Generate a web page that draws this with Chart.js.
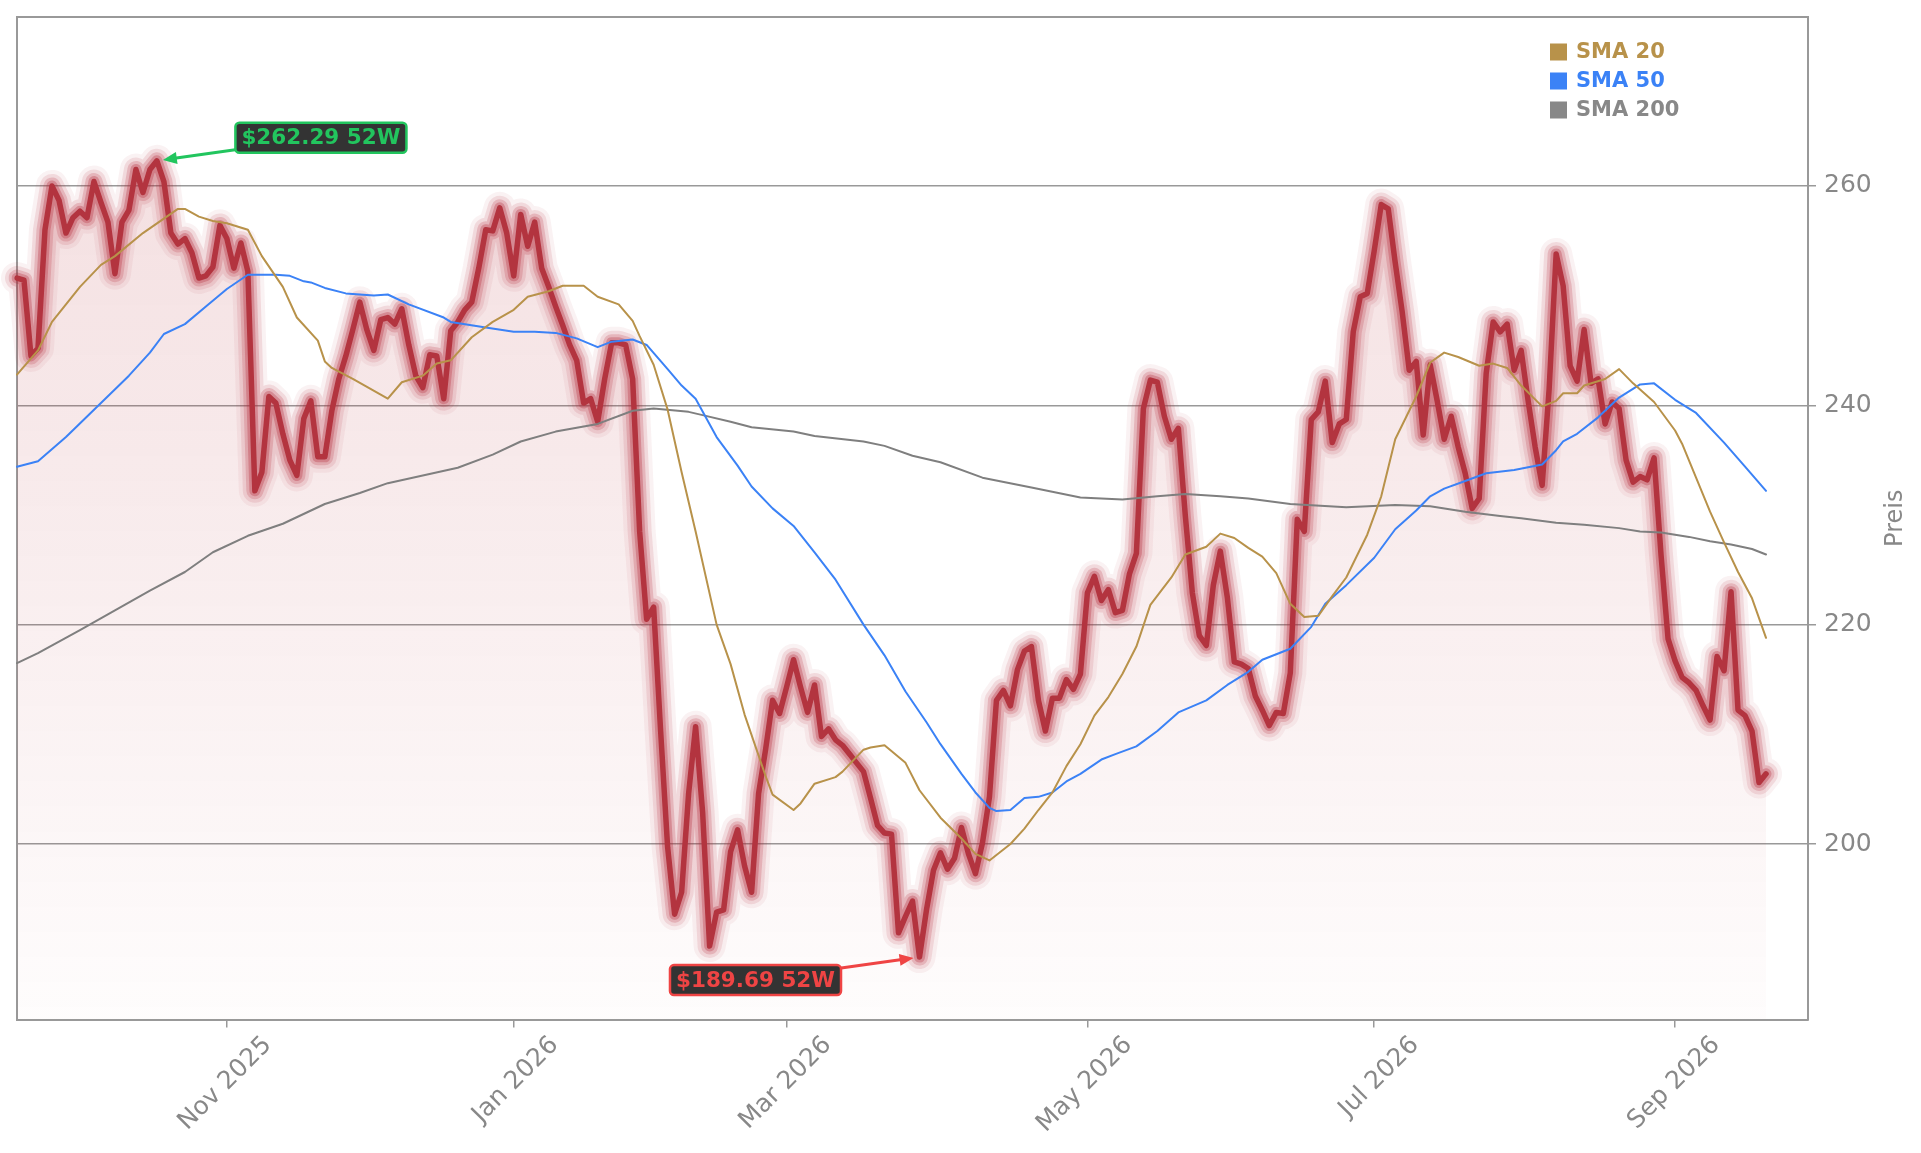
<!DOCTYPE html>
<html>
<head>
<meta charset="utf-8">
<title>Kursverlauf mit SMA</title>
<script src="https://cdn.jsdelivr.net/npm/chart.js@4.4.1/dist/chart.umd.min.js"></script>
<style>
  html, body { margin: 0; padding: 0; background: #fff; }
  #wrap { width: 1921px; height: 1153px; }
</style>
</head>
<body>
<div id="wrap"><canvas id="chart"></canvas></div>
<script>
// trading days from 22 Sep 2025, weekends and US market holidays skipped
const firstDay = '2025-09-22';
const dayCount = 257;
const holidays = ['2025-11-27', '2025-12-25', '2026-01-01', '2026-01-19', '2026-02-16',
                  '2026-04-03', '2026-05-25', '2026-06-19', '2026-07-03', '2026-09-07'];
const monthNames = ['Jan', 'Feb', 'Mar', 'Apr', 'May', 'Jun', 'Jul', 'Aug', 'Sep', 'Oct', 'Nov', 'Dec'];

// daily close, one value per trading day
const price = [
  251.6, 251.4, 244.5, 245.2, 256.0, 260.0, 258.7, 255.7, 257.1, 257.7,
  257.1, 260.4, 258.5, 256.7, 252.0, 256.7, 257.8, 261.5, 259.4, 261.5,
  262.29, 260.4, 255.7, 254.7, 255.2, 253.9, 251.6, 251.8, 252.6, 256.4,
  255.2, 252.5, 254.8, 252.2, 232.2, 233.9, 240.8, 240.2, 237.4, 235.0,
  233.6, 238.8, 240.4, 235.3, 235.3, 239.5, 242.4, 244.5, 246.9, 249.4,
  246.9, 245.0, 247.8, 248.0, 247.4, 248.8, 245.5, 242.7, 241.6, 244.6,
  244.5, 240.6, 246.8, 247.6, 248.7, 249.4, 252.5, 256.0, 255.9, 258.0,
  255.7, 251.8, 257.4, 254.5, 256.7, 252.5, 250.8, 249.0, 247.3, 245.5,
  244.1, 240.2, 240.6, 238.5, 242.4, 245.7, 245.7, 245.5, 242.4, 228.5,
  220.5, 221.6, 210.3, 199.7, 193.6, 195.6, 204.6, 210.7, 202.9, 190.7,
  193.8, 194.0, 199.3, 201.3, 198.0, 195.6, 204.6, 208.6, 213.1, 211.9,
  214.3, 216.8, 214.3, 212.0, 214.5, 209.8, 210.5, 209.5, 209.0, 208.2,
  207.4, 206.6, 204.2, 201.7, 201.0, 200.9, 191.9, 193.4, 194.8, 189.69,
  194.0, 197.6, 199.2, 197.7, 198.7, 201.5, 199.1, 197.3, 200.1, 204.3,
  213.1, 214.0, 212.6, 215.9, 217.6, 218.0, 213.1, 210.3, 213.3, 213.3,
  215.0, 214.1, 215.5, 222.9, 224.4, 222.2, 223.2, 221.1, 221.3, 224.6,
  226.5, 239.7, 242.3, 242.1, 239.0, 236.9, 237.9, 229.9, 222.9, 219.0,
  218.1, 223.6, 226.7, 222.5, 216.6, 216.4, 216.0, 213.5, 212.2, 210.8,
  212.0, 211.9, 215.6, 229.6, 228.5, 238.7, 239.4, 242.2, 236.6, 238.3,
  238.7, 246.7, 249.9, 250.2, 254.1, 258.3, 257.9, 253.0, 248.5, 243.2,
  244.0, 237.3, 243.7, 240.4, 236.9, 239.0, 236.2, 233.8, 230.6, 231.5,
  242.9, 247.6, 246.7, 247.4, 243.2, 245.0, 240.4, 236.2, 232.7, 241.5,
  253.8, 250.9, 243.6, 242.2, 246.9, 242.0, 242.4, 238.3, 240.3, 239.7,
  235.0, 233.0, 233.5, 233.2, 235.2, 226.3, 218.7, 216.7, 215.2, 214.7,
  214.0, 212.6, 211.3, 217.1, 215.8, 223.0, 212.2, 211.7, 210.3, 205.6, 206.4
];

// moving averages as [trading day index, value]
const sma20 = [
  [0, 242.8], [3, 245.0], [5, 247.6], [9, 250.8], [12, 252.8], [14, 253.6], [18, 255.7], [23, 257.9],
  [24, 257.9], [26, 257.2], [28, 256.8], [30, 256.6], [33, 256.0], [35, 253.6], [38, 250.8], [40, 248.0],
  [43, 245.9], [44, 244.0], [45, 243.4], [48, 242.4], [53, 240.6], [55, 242.1], [58, 242.7], [60, 243.8],
  [62, 244.1], [65, 246.2], [68, 247.6], [71, 248.7], [73, 249.9], [76, 250.4], [78, 250.9], [81, 250.9],
  [83, 249.9], [86, 249.2], [88, 247.7], [89, 246.3], [91, 243.7], [93, 239.6], [95, 233.9], [97, 228.5],
  [100, 220.0], [102, 216.4], [104, 211.8], [107, 206.2], [108, 204.5], [111, 203.1], [112, 203.7], [114, 205.5],
  [117, 206.1], [118, 206.6], [121, 208.6], [122, 208.8], [124, 209.0], [127, 207.4], [129, 204.9], [132, 202.4],
  [135, 200.5], [137, 199.1], [139, 198.5], [142, 200.0], [144, 201.4], [146, 203.1], [148, 204.7], [150, 207.1],
  [152, 209.1], [154, 211.7], [156, 213.4], [158, 215.5], [160, 218.0], [162, 221.8], [165, 224.3], [167, 226.4],
  [170, 227.1], [172, 228.3], [174, 227.9], [176, 227.0], [178, 226.2], [180, 224.7], [182, 221.9], [184, 220.7],
  [186, 220.8], [188, 222.6], [190, 224.3], [193, 228.2], [195, 231.7], [197, 236.9], [200, 240.8], [202, 243.9],
  [204, 244.8], [206, 244.4], [209, 243.6], [211, 243.8], [213, 243.4], [215, 241.8], [218, 239.9], [220, 240.4],
  [221, 241.1], [223, 241.1], [224, 241.8], [227, 242.4], [229, 243.3], [231, 242.0], [234, 240.3], [237, 237.7],
  [238, 236.5], [240, 233.4], [242, 230.3], [244, 227.5], [246, 224.8], [248, 222.4], [250, 218.8]
];
const sma50 = [
  [0, 234.4], [3, 234.9], [7, 237.1], [12, 240.2], [16, 242.7], [19, 244.8], [21, 246.5], [24, 247.4],
  [27, 249.0], [30, 250.6], [33, 251.9], [37, 251.9], [39, 251.8], [41, 251.3], [42, 251.2], [44, 250.7],
  [47, 250.2], [51, 250.0], [53, 250.1], [56, 249.2], [61, 248.0], [62, 247.6], [67, 247.1], [71, 246.7],
  [74, 246.7], [77, 246.6], [80, 246.1], [83, 245.3], [85, 245.8], [88, 246.0], [90, 245.5], [93, 243.3],
  [95, 241.8], [97, 240.6], [100, 237.1], [103, 234.5], [105, 232.6], [108, 230.6], [111, 229.0], [114, 226.6],
  [117, 224.1], [121, 220.0], [124, 217.2], [127, 213.9], [130, 211.1], [132, 209.1], [135, 206.4], [137, 204.7],
  [139, 203.3], [140, 203.0], [142, 203.1], [144, 204.2], [146, 204.3], [148, 204.7], [150, 205.7], [152, 206.4],
  [155, 207.7], [157, 208.2], [160, 208.9], [163, 210.3], [166, 212.0], [170, 213.1], [173, 214.5], [176, 215.7],
  [178, 216.8], [182, 217.8], [185, 219.8], [187, 221.9], [190, 223.6], [194, 226.1], [197, 228.7], [200, 230.4],
  [202, 231.7], [204, 232.4], [207, 233.1], [210, 233.8], [214, 234.1], [218, 234.6], [220, 235.9], [221, 236.7],
  [223, 237.4], [226, 238.9], [229, 240.7], [232, 241.9], [234, 242.0], [237, 240.5], [240, 239.3], [244, 236.6],
  [247, 234.4], [250, 232.2]
];
const sma200 = [
  [0, 216.5], [3, 217.4], [9, 219.5], [14, 221.3], [19, 223.1], [24, 224.8], [28, 226.6], [33, 228.1],
  [38, 229.2], [44, 231.0], [49, 232.0], [53, 232.9], [58, 233.6], [63, 234.3], [68, 235.5], [72, 236.7],
  [77, 237.6], [83, 238.3], [88, 239.5], [91, 239.7], [96, 239.4], [98, 239.1], [102, 238.5], [105, 238.0],
  [111, 237.6], [114, 237.2], [121, 236.7], [124, 236.3], [128, 235.4], [132, 234.8], [138, 233.4], [145, 232.5],
  [152, 231.6], [158, 231.4], [163, 231.7], [167, 231.9], [172, 231.7], [176, 231.5], [182, 231.0], [190, 230.7],
  [197, 230.9], [202, 230.8], [207, 230.3], [212, 229.9], [215, 229.7], [220, 229.3], [224, 229.1], [229, 228.8],
  [232, 228.5], [235, 228.4], [239, 228.0], [242, 227.6], [245, 227.3], [248, 226.9], [250, 226.4]
];

const smaNames = ['SMA 20', 'SMA 50', 'SMA 200'];
const smaColors = ['#b8924a', '#3b82f6', '#888888'];
const yTickValues = [200, 220, 240, 260];

function buildTradingDays(start, count) {
  const out = [];
  const d = new Date(start + 'T12:00:00Z');
  while (out.length < count) {
    const iso = d.toISOString().slice(0, 10);
    const wd = d.getUTCDay();
    if (wd !== 0 && wd !== 6 && !holidays.includes(iso)) out.push(iso);
    d.setUTCDate(d.getUTCDate() + 1);
  }
  return out;
}

const tradingDays = buildTradingDays(firstDay, dayCount);

// first trading day of every second month gets a tick
const monthTicks = {};
tradingDays.forEach((iso, i) => {
  if (i === 0) return;
  const m = +iso.slice(5, 7);
  if (m !== +tradingDays[i - 1].slice(5, 7) && m % 2 === 1) {
    monthTicks[i] = monthNames[m - 1] + ' ' + iso.slice(0, 4);
  }
});

const toPoints = (pairs) => pairs.map(([i, v]) => ({ x: tradingDays[i], y: v }));

const hiIdx = price.indexOf(Math.max(...price));
const loIdx = price.indexOf(Math.min(...price));
const extremes = [
  { idx: hiIdx, color: '#22c55e', dx: 164, dy: -23 },
  { idx: loIdx, color: '#ef4444', dx: -164, dy: 23 }
];

Chart.defaults.font.family = '"DejaVu Sans", sans-serif';

const plotFrame = {
  id: 'plotFrame',
  beforeDatasetsDraw(chart) {
    const { ctx, chartArea: a } = chart;
    ctx.save();
    ctx.strokeStyle = '#999';
    ctx.lineWidth = 2;
    ctx.beginPath();
    ctx.moveTo(a.left, a.bottom);
    ctx.lineTo(a.left, a.top);
    ctx.lineTo(a.right, a.top);
    ctx.stroke();
    ctx.restore();
  }
};

const extremeLabels = {
  id: 'extremeLabels',
  afterDatasetsDraw(chart) {
    const { ctx, scales: { x, y } } = chart;
    ctx.save();
    ctx.font = 'bold 21.5px "DejaVu Sans"';
    extremes.forEach((m) => {
      const px = x.getPixelForValue(m.idx);
      const py = y.getPixelForValue(price[m.idx]);
      const cx = px + m.dx, cy = py + m.dy;
      const ang = Math.atan2(py - cy, px - cx);
      const c = Math.cos(ang), s = Math.sin(ang);
      const tx = px - c * 6, ty = py - s * 6;
      ctx.strokeStyle = m.color;
      ctx.fillStyle = m.color;
      ctx.lineWidth = 3;
      ctx.beginPath();
      ctx.moveTo(cx, cy);
      ctx.lineTo(tx - c * 10, ty - s * 10);
      ctx.stroke();
      ctx.beginPath();
      ctx.moveTo(tx, ty);
      ctx.lineTo(tx - c * 14 + s * 6, ty - s * 14 - c * 6);
      ctx.lineTo(tx - c * 14 - s * 6, ty - s * 14 + c * 6);
      ctx.closePath();
      ctx.fill();

      const text = '$' + price[m.idx].toFixed(2) + ' 52W';
      const w = ctx.measureText(text).width + 12, h = 30;
      ctx.beginPath();
      ctx.roundRect(cx - w / 2, cy - h / 2, w, h, 4);
      ctx.fillStyle = '#333333';
      ctx.fill();
      ctx.lineWidth = 2.5;
      ctx.stroke();
      ctx.fillStyle = m.color;
      ctx.textAlign = 'center';
      ctx.textBaseline = 'middle';
      ctx.fillText(text, cx, cy + 1);
    });
    ctx.restore();
  }
};

const smaLegend = {
  id: 'smaLegend',
  afterDraw(chart) {
    const { ctx, chartArea: a } = chart;
    ctx.save();
    ctx.font = 'bold 21px "DejaVu Sans"';
    ctx.textAlign = 'left';
    ctx.textBaseline = 'middle';
    smaNames.forEach((name, k) => {
      const bx = a.right - 258, by = a.top + 35 + k * 29;
      ctx.fillStyle = smaColors[k];
      ctx.fillRect(bx, by - 8.5, 17, 17);
      ctx.fillText(name, bx + 26, by + 1);
    });
    ctx.restore();
  }
};

const sideTitle = {
  id: 'sideTitle',
  afterDraw(chart) {
    const { ctx, chartArea: a } = chart;
    ctx.save();
    ctx.translate(chart.width - 25, (a.top + a.bottom) / 2);
    ctx.rotate(-Math.PI / 2);
    ctx.font = '24px "DejaVu Sans"';
    ctx.fillStyle = '#888';
    ctx.textAlign = 'center';
    ctx.textBaseline = 'middle';
    ctx.fillText('Preis', 0, 0);
    ctx.restore();
  }
};

const priceFill = (context) => {
  const { ctx, chartArea } = context.chart;
  if (!chartArea) return 'rgba(180, 40, 50, 0.08)';
  const g = ctx.createLinearGradient(0, chartArea.top, 0, chartArea.bottom);
  g.addColorStop(0, 'rgba(180, 40, 50, 0.17)');
  g.addColorStop(1, 'rgba(180, 40, 50, 0.01)');
  return g;
};

const lineBase = { pointRadius: 0, pointHoverRadius: 0, tension: 0, fill: false,
                   borderJoinStyle: 'round', borderCapStyle: 'round' };

const glow = (width, alpha) => Object.assign({}, lineBase, {
  label: 'glow', data: price, borderWidth: width, borderColor: `rgba(178, 40, 55, ${alpha})`
});

new Chart(document.getElementById('chart'), {
  type: 'line',
  data: {
    labels: tradingDays,
    datasets: [
      Object.assign({}, lineBase, { label: smaNames[0], data: toPoints(sma20), borderColor: smaColors[0], borderWidth: 2 }),
      Object.assign({}, lineBase, { label: smaNames[1], data: toPoints(sma50), borderColor: smaColors[1], borderWidth: 2 }),
      Object.assign({}, lineBase, { label: smaNames[2], data: toPoints(sma200), borderColor: '#7f7f7f', borderWidth: 2 }),
      Object.assign({}, lineBase, { label: 'Kurs', data: price, borderColor: '#b3343f', borderWidth: 5.5 }),
      glow(11, 0.3),
      glow(17, 0.2),
      glow(24, 0.12),
      glow(32, 0.06),
      Object.assign({}, lineBase, { label: 'fill', data: price, borderWidth: 0, fill: 'start', backgroundColor: priceFill })
    ]
  },
  options: {
    responsive: true,
    maintainAspectRatio: false,
    animation: false,
    events: [],
    layout: { padding: { left: 17, top: 17, right: 0, bottom: 0 } },
    plugins: {
      legend: { display: false },
      tooltip: { enabled: false }
    },
    scales: {
      x: {
        type: 'category',
        offset: false,
        afterBuildTicks: (scale) => {
          scale.ticks = Object.keys(monthTicks).map((k) => ({ value: +k }));
        },
        afterFit: (scale) => { scale.height = 133.5; },
        grid: { drawOnChartArea: false, drawTicks: true, tickLength: 8, color: '#999', lineWidth: 1.5 },
        border: { display: true, color: '#999', width: 2 },
        ticks: {
          autoSkip: false,
          minRotation: 45,
          maxRotation: 45,
          padding: 3,
          labelOffset: 41,
          color: '#888',
          font: { size: 25 },
          callback: (value) => monthTicks[value] || null
        }
      },
      y: {
        position: 'right',
        min: 184.0,
        max: 275.4,
        afterBuildTicks: (scale) => {
          scale.ticks = yTickValues.map((v) => ({ value: v }));
        },
        afterFit: (scale) => {
          scale.width = 113;
          scale.paddingTop = 0;
          scale.paddingBottom = 0;
        },
        grid: { color: '#999', lineWidth: 1.5, tickLength: 8 },
        border: { display: true, color: '#999', width: 2 },
        ticks: { color: '#888', font: { size: 25 }, padding: 8 }
      }
    }
  },
  plugins: [plotFrame, extremeLabels, smaLegend, sideTitle]
});
</script>
</body>
</html>
